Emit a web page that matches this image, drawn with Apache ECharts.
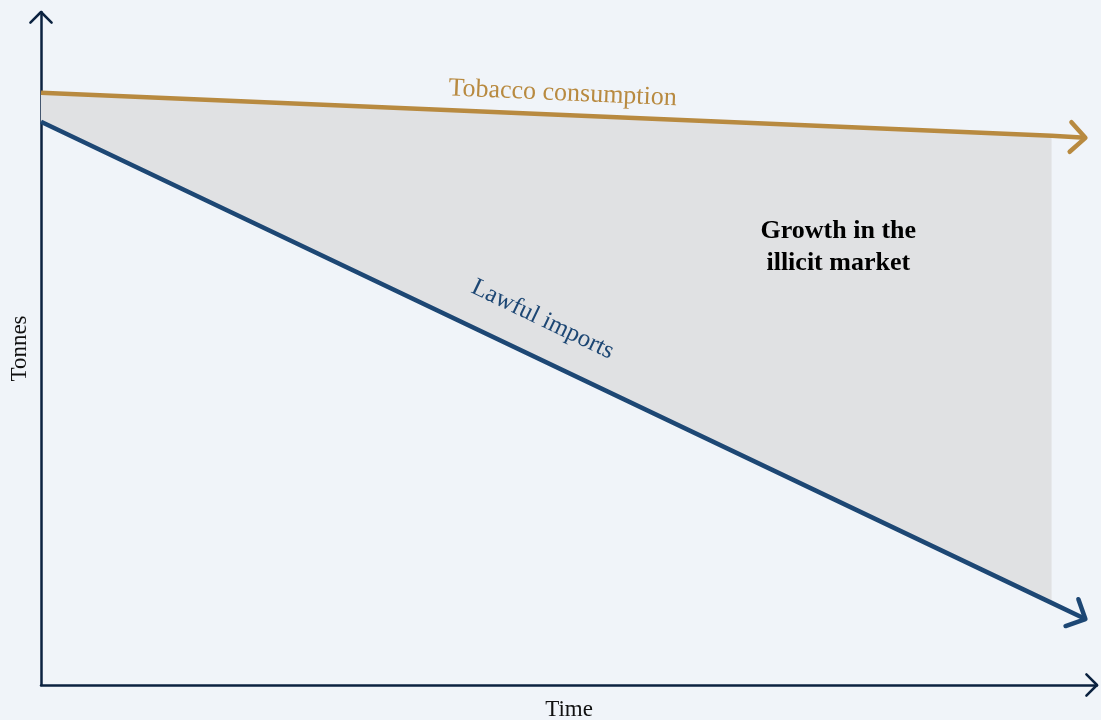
<!DOCTYPE html>
<html>
<head>
<meta charset="utf-8">
<script src="https://cdn.jsdelivr.net/npm/echarts@6/dist/echarts.min.js"></script>
<style>
  html, body { margin: 0; padding: 0; background: #f0f4f9; }
  #chart { width: 1101px; height: 720px; }
</style>
</head>
<body>
<div id="chart"></div>
<script>
// time positions (0-100 scale), last point is the arrow tip
const timePoints = [0, 95.7, 98.9];
const tobaccoConsumption = [88.0, 81.6, 81.3];
const lawfulImports = [83.7, 12.2, 9.8];
// filled gap only runs up to the second point
const fillCount = 2;

const FONT = '"Liberation Serif", "DejaVu Serif", serif';
const GOLD = '#b88a40';
const BLUE = '#1d4774';
const NAVY = '#0b2240';

const toPairs = (ys) => timePoints.map((t, i) => [t, ys[i]]);

// arrows: [fromX, fromY, toX, toY, armLength, width, colour]
const arrows = [
  [timePoints[1], tobaccoConsumption[1], timePoints[2], tobaccoConsumption[2], 21, 4.5, GOLD],
  [timePoints[1], lawfulImports[1], timePoints[2], lawfulImports[2], 21, 4.5, BLUE],
  [0, 90, 0, 100, 15, 2.5, NAVY],
  [90, 0, 100, 0, 15, 2.5, NAVY]
];

const chart = echarts.init(document.getElementById('chart'));

const option = {
  backgroundColor: '#f0f4f9',
  animation: false,
  grid: { left: 41, right: 4, top: 12, bottom: 35, containLabel: false, outerBoundsMode: 'none' },
  xAxis: {
    type: 'value', min: 0, max: 100,
    name: 'Time', nameLocation: 'middle', nameGap: 13,
    nameTextStyle: { fontFamily: FONT, fontSize: 23, color: '#111' },
    axisLine: { show: true, lineStyle: { color: NAVY, width: 2.5 } },
    axisTick: { show: false }, axisLabel: { show: false }, splitLine: { show: false }
  },
  yAxis: {
    type: 'value', min: 0, max: 100,
    name: 'Tonnes', nameLocation: 'middle', nameGap: 10,
    nameTextStyle: { fontFamily: FONT, fontSize: 23, color: '#111' },
    axisLine: { show: true, lineStyle: { color: NAVY, width: 2.5 } },
    axisTick: { show: false }, axisLabel: { show: false }, splitLine: { show: false }
  },
  series: [
    {
      // grey gap between consumption and lawful imports
      type: 'custom', z: 1, clip: false,
      data: [0],
      renderItem: (params, api) => {
        const pts = [];
        for (let i = 0; i < fillCount; i++) pts.push(api.coord([timePoints[i], tobaccoConsumption[i]]));
        for (let i = fillCount - 1; i >= 0; i--) pts.push(api.coord([timePoints[i], lawfulImports[i]]));
        return { type: 'polygon', shape: { points: pts }, style: { fill: '#e0e1e3' } };
      }
    },
    {
      type: 'line', symbol: 'none', data: toPairs(tobaccoConsumption), z: 3,
      lineStyle: { color: GOLD, width: 4.5 },
      markPoint: {
        symbol: 'circle', symbolSize: 0,
        data: [{
          coord: [49.4, 87.9],
          label: {
            show: true, formatter: 'Tobacco consumption', rotate: -2.5,
            fontFamily: FONT, fontSize: 26, color: GOLD
          }
        }]
      }
    },
    {
      type: 'line', symbol: 'none', data: toPairs(lawfulImports), z: 3,
      lineStyle: { color: BLUE, width: 4.5 },
      markPoint: {
        symbol: 'circle', symbolSize: 0,
        data: [
          {
            coord: [47.5, 54.3],
            label: {
              show: true, formatter: 'Lawful imports', rotate: -25.7,
              fontFamily: FONT, fontSize: 25, color: BLUE
            }
          },
          {
            coord: [75.5, 65.0],
            label: {
              show: true, formatter: 'Growth in the\nillicit market',
              fontFamily: FONT, fontSize: 26, fontWeight: 'bold',
              color: '#000', lineHeight: 32, align: 'center'
            }
          }
        ]
      }
    },
    {
      type: 'custom', z: 4, clip: false,
      data: arrows.map((a, i) => i),
      renderItem: (params, api) => {
        const a = arrows[params.dataIndex];
        const p0 = api.coord([a[0], a[1]]);
        const p1 = api.coord([a[2], a[3]]);
        const ang = Math.atan2(p1[1] - p0[1], p1[0] - p0[0]);
        const len = a[4];
        const spread = Math.PI / 4;
        const arm = (s) => [
          p1[0] - len * Math.cos(ang + s * spread),
          p1[1] - len * Math.sin(ang + s * spread)
        ];
        return {
          type: 'polyline',
          shape: { points: [arm(1), p1, arm(-1)] },
          style: { stroke: a[6], lineWidth: a[5], fill: null, lineCap: 'round', lineJoin: 'round' }
        };
      }
    }
  ]
};

chart.setOption(option);
</script>
</body>
</html>
